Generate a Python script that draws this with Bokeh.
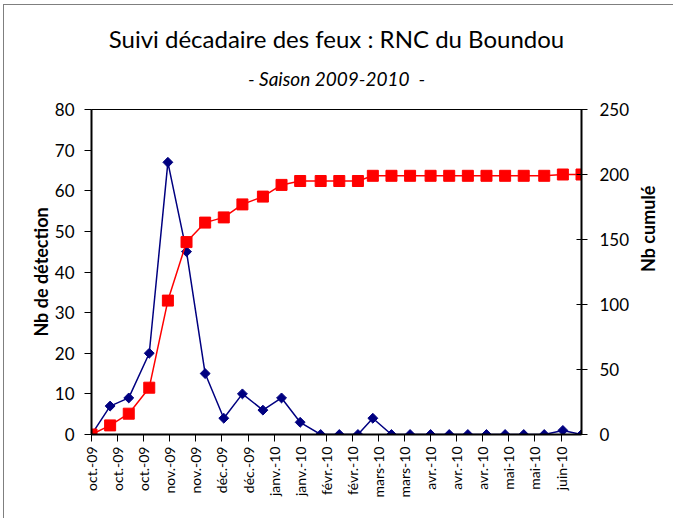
import math
import pandas as pd
from bokeh.plotting import figure
from bokeh.models import LinearAxis, Range1d, FixedTicker, Title, ColumnDataSource
from bokeh.embed import file_html
from bokeh.resources import INLINE

# ---- data ----
decades = ["2009-10-01", "2009-10-11", "2009-10-21", "2009-11-01", "2009-11-11", "2009-11-21",
           "2009-12-01", "2009-12-11", "2009-12-21", "2010-01-01", "2010-01-11", "2010-01-21",
           "2010-02-01", "2010-02-11", "2010-02-21", "2010-03-01", "2010-03-11", "2010-03-21",
           "2010-04-01", "2010-04-11", "2010-04-21", "2010-05-01", "2010-05-11", "2010-05-21",
           "2010-06-01", "2010-06-11", "2010-06-21"]
detections = [0, 7, 9, 20, 67, 45, 15, 4, 10, 6, 9, 3, 0, 0, 0, 4, 0, 0, 0, 0, 0, 0, 0, 0, 0, 1, 0]
cumul = [0, 7, 16, 36, 103, 148, 163, 167, 177, 183, 192, 195, 195, 195, 195, 199, 199, 199,
         199, 199, 199, 199, 199, 199, 199, 200, 200]

tick_dates = ["2009-10-01", "2009-10-15", "2009-10-29", "2009-11-12", "2009-11-26", "2009-12-10",
              "2009-12-24", "2010-01-07", "2010-01-21", "2010-02-04", "2010-02-18", "2010-03-04",
              "2010-03-18", "2010-04-01", "2010-04-15", "2010-04-29", "2010-05-13", "2010-05-27",
              "2010-06-10"]
tick_labels = ["oct.-09", "oct.-09", "oct.-09", "nov.-09", "nov.-09", "déc.-09", "déc.-09",
               "janv.-10", "janv.-10", "févr.-10", "févr.-10", "mars-10", "mars-10",
               "avr.-10", "avr.-10", "avr.-10", "mai-10", "mai-10", "juin-10"]
left_ticks = [0, 10, 20, 30, 40, 50, 60, 70, 80]
right_ticks = [0, 50, 100, 150, 200, 250]

title_text = "Suivi décadaire des feux : RNC du Boundou"
subtitle_text = "- Saison 2009-2010 \u00a0-"
left_label = "Nb de détection"
right_label = "Nb cumulé"


def ms(d):
    return pd.Timestamp(d).timestamp() * 1000.0


x_ms = [ms(d) for d in decades]
tick_ms = [ms(d) for d in tick_dates]

src = ColumnDataSource(data=dict(x=x_ms, det=detections, cum=cumul))

FONT = "Lato"

p = figure(frame_width=490, frame_height=325, x_axis_type="datetime",
           output_backend="svg", toolbar_location=None, title=None,
           min_border_left=87, min_border_right=92, min_border_top=104, min_border_bottom=84,
           x_range=Range1d(x_ms[0], x_ms[-1]), y_range=Range1d(left_ticks[0], left_ticks[-1]))
p.styles = {"border-left": "1px solid #7f7f7f", "border-top": "1px solid #7f7f7f",
            "margin-left": "3px", "margin-top": "4px"}
p.extra_y_ranges = {"cum": Range1d(right_ticks[0], right_ticks[-1])}
p.xgrid.visible = False
p.ygrid.visible = False
p.outline_line_color = "black"
p.outline_line_width = 1
p.background_fill_color = "white"
p.border_fill_color = "white"

# x axis
xa = p.xaxis[0]
xa.ticker = FixedTicker(ticks=tick_ms, minor_ticks=[])
xa.major_label_overrides = {t: l for t, l in zip(tick_ms, tick_labels)}
xa.major_label_orientation = math.pi / 2
xa.major_label_text_font = FONT
xa.major_label_text_font_size = "14px"
xa.major_label_text_color = "black"
xa.major_label_standoff = 5
xa.axis_line_width = 2
xa.axis_line_color = "black"
xa.major_tick_in = 0
xa.major_tick_out = 7
xa.major_tick_line_color = "black"
xa.minor_tick_line_color = None

# left axis
ya = p.yaxis[0]
ya.ticker = FixedTicker(ticks=left_ticks, minor_ticks=[])
ya.axis_label = left_label
ya.axis_label_text_font = FONT
ya.axis_label_text_font_size = "18px"
ya.axis_label_text_font_style = "bold"
ya.axis_label_text_color = "black"
ya.axis_label_standoff = 0
ya.major_label_text_font = FONT
ya.major_label_text_font_size = "17px"
ya.major_label_text_color = "black"
ya.major_label_standoff = 10
ya.axis_line_width = 2
ya.axis_line_color = "black"
ya.major_tick_in = 0
ya.major_tick_out = 7
ya.major_tick_line_color = "black"
ya.minor_tick_line_color = None

# right axis
ra = LinearAxis(y_range_name="cum", ticker=FixedTicker(ticks=right_ticks, minor_ticks=[]),
                axis_label=right_label)
ra.axis_label_orientation = math.pi / 2
ra.axis_label_text_font = FONT
ra.axis_label_text_font_size = "18px"
ra.axis_label_text_font_style = "bold"
ra.axis_label_text_color = "black"
ra.axis_label_standoff = 16
ra.major_label_text_font = FONT
ra.major_label_text_font_size = "17px"
ra.major_label_text_color = "black"
ra.major_label_standoff = 12
ra.axis_line_width = 2
ra.axis_line_color = "black"
ra.major_tick_in = 5
ra.major_tick_out = 6
ra.major_tick_line_color = "black"
ra.minor_tick_line_color = None
p.add_layout(ra, "right")

# series
p.line("x", "det", source=src, line_color="#000080", line_width=1.5)
p.scatter("x", "det", source=src, marker="square", angle=math.pi / 4, size=7,
          fill_color="#000080", line_color="#000080")
p.line("x", "cum", source=src, y_range_name="cum", line_color="#FF0000", line_width=1.5)
p.scatter("x", "cum", source=src, y_range_name="cum", marker="square", size=11,
          fill_color="#FF0000", line_color="#FF0000")

# titles (first added sits closest to the plot)
p.add_layout(Title(text=subtitle_text, align="center", text_font=FONT, text_font_size="19px",
                   text_font_style="italic", text_color="black", standoff=39), "above")
p.add_layout(Title(text=title_text, align="center", text_font=FONT, text_font_size="24px",
                   text_font_style="normal", text_color="black", standoff=-15), "above")

open("out.html", "w").write(file_html(p, INLINE))
